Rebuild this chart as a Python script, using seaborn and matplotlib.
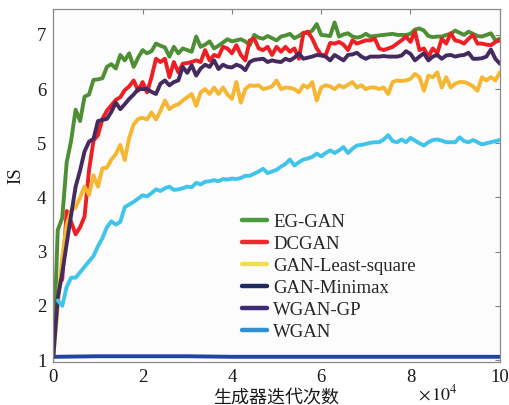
import numpy as np
import pandas as pd
import matplotlib
matplotlib.use("Agg")
import matplotlib.pyplot as plt
from matplotlib.lines import Line2D
import seaborn as sns

# IS curves, x in units of 1e4 generator iterations, step 0.1
eg_gan = [1.05, 3.40, 3.62, 4.65, 5.05, 5.62, 5.41, 5.86, 5.90, 6.17,
          6.18, 6.20, 6.41, 6.46, 6.38, 6.63, 6.53, 6.66, 6.41, 6.58,
          6.72, 6.66, 6.70, 6.84, 6.80, 6.77, 6.60, 6.78, 6.66, 6.75,
          6.72, 6.69, 6.97, 6.78, 6.82, 6.88, 6.75, 6.80, 6.86, 6.92,
          6.88, 6.90, 6.92, 6.88, 6.81, 7.00, 6.95, 6.93, 6.98, 6.94,
          6.90, 6.97, 6.99, 7.02, 6.94, 6.98, 7.04, 7.03, 7.08, 7.20,
          7.00, 6.99, 6.98, 7.23, 6.97, 7.01, 7.03, 6.97, 6.95, 6.97,
          7.02, 6.97, 6.98, 6.99, 7.00, 7.01, 7.02, 7.00, 7.00, 7.00,
          7.02, 7.10, 7.12, 7.08, 6.98, 6.96, 6.97, 6.97, 7.00, 7.02,
          7.08, 7.04, 7.00, 7.06, 7.02, 6.98, 6.97, 7.00, 7.03, 6.90,
          6.93]

# DCGAN starts at 0.2
dcgan = [2.48, 3.75, 3.55, 3.32, 3.45, 3.65, 4.50, 5.05,
         5.15, 5.45, 5.60, 5.70, 5.80, 5.85, 5.98, 6.05, 6.16, 5.97,
         6.13, 5.94, 6.22, 6.56, 6.50, 6.56, 6.22, 6.50, 6.31, 6.47,
         6.48, 6.50, 6.53, 6.50, 6.72, 6.53, 6.63, 6.60, 6.78, 6.75,
         6.66, 6.81, 6.63, 6.53, 6.90, 6.93, 6.75, 6.72, 6.78, 6.63,
         6.78, 6.69, 6.78, 6.69, 6.75, 6.56, 7.03, 7.06, 6.93, 6.75,
         6.63, 6.63, 6.85, 6.84, 6.87, 6.82, 6.72, 6.90, 6.84, 6.87,
         6.90, 6.90, 6.93, 6.75, 6.72, 6.75, 6.78, 6.84, 6.90, 6.97,
         6.87, 7.06, 6.72, 6.75, 6.60, 6.75, 6.66, 6.93, 6.84, 7.03,
         6.90, 6.88, 6.84, 6.93, 7.00, 6.84, 6.84, 6.82, 6.81, 6.87,
         6.90]

gan_ls = [1.05, 2.00, 2.90, 3.50, 3.76, 3.82, 4.00, 4.20, 4.05, 4.41,
          4.20, 4.54, 4.55, 4.70, 4.80, 4.97, 4.69, 5.10, 5.35, 5.45,
          5.47, 5.44, 5.57, 5.44, 5.60, 5.79, 5.63, 5.69, 5.72, 5.79,
          5.85, 5.91, 5.69, 5.94, 6.00, 5.91, 6.03, 5.91, 6.03, 5.90,
          5.82, 6.13, 5.75, 6.00, 6.07, 6.06, 6.07, 6.00, 6.02, 6.05,
          6.16, 6.00, 6.03, 6.02, 6.00, 5.94, 6.07, 6.03, 6.13, 5.79,
          6.03, 6.07, 6.05, 6.00, 6.07, 6.03, 6.08, 6.13, 6.03, 6.07,
          6.00, 6.03, 6.03, 6.00, 6.03, 5.91, 6.13, 6.16, 6.15, 6.16,
          6.19, 6.28, 6.22, 5.97, 6.25, 6.22, 6.31, 6.03, 6.22, 6.03,
          6.10, 6.13, 6.13, 6.10, 6.05, 5.97, 6.22, 6.16, 6.22, 6.16,
          6.31]

minimax_x = [0.05, 1, 2, 3, 4, 5, 6, 7, 8, 9, 10]
gan_minimax = [1.06, 1.07, 1.07, 1.07, 1.06, 1.06, 1.06, 1.06, 1.06, 1.06, 1.06]

wgan_gp = [1.05, 2.15, 2.60, 3.15, 3.68, 4.20, 4.50, 4.85, 5.03, 5.08,
           5.41, 5.43, 5.45, 5.58, 5.75, 5.63, 5.72, 5.82, 5.90, 6.00,
           6.00, 6.00, 5.95, 5.91, 6.10, 6.16, 6.07, 6.13, 6.16, 6.41,
           6.30, 6.44, 6.25, 6.38, 6.45, 6.41, 6.53, 6.37, 6.45, 6.41,
           6.40, 6.45, 6.42, 6.35, 6.50, 6.54, 6.55, 6.56, 6.50, 6.53,
           6.51, 6.50, 6.56, 6.53, 6.58, 6.66, 6.56, 6.58, 6.60, 6.63,
           6.62, 6.60, 6.53, 6.63, 6.58, 6.53, 6.63, 6.64, 6.67, 6.60,
           6.56, 6.60, 6.60, 6.60, 6.61, 6.60, 6.60, 6.60, 6.62, 6.70,
           6.65, 6.53, 6.60, 6.66, 6.53, 6.60, 6.63, 6.56, 6.62, 6.63,
           6.60, 6.62, 6.63, 6.67, 6.56, 6.56, 6.57, 6.60, 6.73, 6.56,
           6.47]

# WGAN starts at 0.1
wgan = [2.10, 2.00, 2.35, 2.52, 2.52, 2.62, 2.72, 2.82, 2.92, 3.10,
        3.25, 3.45, 3.56, 3.50, 3.55, 3.82, 3.87, 3.92, 3.98, 4.04,
        4.02, 4.08, 4.15, 4.12, 4.17, 4.20, 4.14, 4.15, 4.17, 4.20,
        4.19, 4.27, 4.24, 4.29, 4.30, 4.32, 4.30, 4.34, 4.33, 4.35,
        4.34, 4.36, 4.40, 4.40, 4.44, 4.48, 4.53, 4.45, 4.48, 4.51,
        4.57, 4.62, 4.70, 4.59, 4.65, 4.70, 4.72, 4.75, 4.81, 4.76,
        4.82, 4.87, 4.82, 4.87, 4.93, 4.82, 4.90, 4.96, 4.97, 4.99,
        5.01, 5.02, 5.02, 5.07, 5.15, 5.04, 5.02, 5.07, 5.02, 5.10,
        5.05, 5.00, 4.96, 5.02, 5.06, 5.07, 5.05, 5.02, 5.02, 5.02,
        5.11, 5.04, 5.02, 5.06, 5.02, 4.98, 5.00, 5.02, 5.04, 5.06]

labels = ['EG-GAN', 'DCGAN', 'GAN-Least-square', 'GAN-Minimax', 'WGAN-GP', 'WGAN']
line_colors = ['#4e8f36', '#ed1f24', '#f5b731', '#2244a0', '#442a5e', '#40c4ec']
legend_colors = ['#4a9a3e', '#ee2a2e', '#f0e04a', '#1f2a5e', '#3e2a78', '#2f8fd0']


def steps(start, n):
    return list(np.round(start + 0.1 * np.arange(n), 2))


series = {
    'EG-GAN': (steps(0.0, len(eg_gan)), eg_gan),
    'DCGAN': (steps(0.2, len(dcgan)), dcgan),
    'GAN-Least-square': (steps(0.0, len(gan_ls)), gan_ls),
    'GAN-Minimax': (minimax_x, gan_minimax),
    'WGAN-GP': (steps(0.0, len(wgan_gp)), wgan_gp),
    'WGAN': (steps(0.1, len(wgan)), wgan),
}

frames = []
for name in labels:
    xs, ys = series[name]
    frames.append(pd.DataFrame({'iter': xs, 'IS': ys, 'model': name}))
df = pd.concat(frames, ignore_index=True)

sns.set_style('white')
plt.rcParams['font.family'] = ['Liberation Serif', 'Noto Sans CJK SC']
plt.rcParams['mathtext.fontset'] = 'stix'

fig = plt.figure(figsize=(5.1, 4.05), dpi=100)
ax = fig.add_axes([0.1045, 0.107, 0.8755, 0.871])
ax.set_facecolor('#fcfcfc')

sns.lineplot(data=df, x='iter', y='IS', hue='model', hue_order=labels,
             palette=line_colors, linewidth=2.8, errorbar=None, sort=False,
             legend=False, ax=ax)

ax.set_xlim(0, 10)
ax.set_ylim(0.97, 7.48)
ax.set_xticks([0, 2, 4, 6, 8, 10])
ax.set_yticks([1, 2, 3, 4, 5, 6, 7])
ax.tick_params(direction='in', length=3.5, width=0.8, color='#808080',
               top=True, right=True, labelsize=13.5, pad=5, labelcolor='#1a1a1a')
for sp in ax.spines.values():
    sp.set_color('#8a8a8a')
    sp.set_linewidth(0.9)

ax.set_xlabel('')
ax.set_ylabel('')
fig.text(276 / 510, 1 - 397 / 405, '生成器迭代次数', ha='center', va='center',
         fontsize=13, family=['Noto Sans CJK SC'], color='#1a1a1a')
fig.text(438 / 510, 1 - 394 / 405, r'$\times\,10^4$', ha='center', va='center',
         fontsize=13, color='#1a1a1a')
fig.text(16 / 510, 1 - 176 / 405, 'IS', ha='center', va='center', rotation=90,
         fontsize=13.5, color='#1a1a1a')

handles = [Line2D([], [], color=c, lw=3.2) for c in legend_colors]
ax.legend(handles, labels, loc='upper left', bbox_to_anchor=(0.4218, 0.419),
          frameon=False, fontsize=13.5, handlelength=1.33, handletextpad=0.35,
          labelspacing=0.26, borderaxespad=0, borderpad=0)

fig.savefig('out.png', dpi=100)
